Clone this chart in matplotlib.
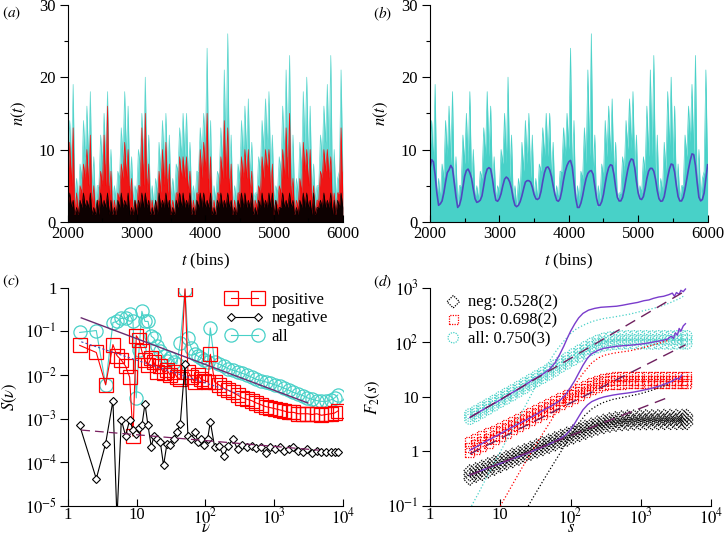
"""
Four-panel figure: activity time series (a, b), power spectra (c), DFA fluctuation functions (d).
"""

import numpy as np
import matplotlib.pyplot as plt
from matplotlib.ticker import FixedLocator, FuncFormatter, NullLocator

plt.rcParams['font.family'] = ['Liberation Serif', 'DejaVu Serif']
plt.rcParams['mathtext.fontset'] = 'stix'
plt.rcParams['font.size'] = 10.5

# ---------------- panel (a)/(b): per-50-bin windows, dense level (lo) and spike top (hi)
bin_start = np.arange(2000, 6000, 50)

all_hi = [14, 19, 6, 8, 14, 16, 18, 9, 5, 12,
          15, 18, 10, 5, 7, 13, 18, 16, 9, 5,
          10, 15, 20, 12, 5, 6, 11, 14, 15, 12,
          6, 8, 13, 15, 15, 11, 5, 7, 13, 15,
          24, 14, 5, 7, 13, 21, 26, 12, 5, 8,
          14, 16, 17, 11, 4, 9, 14, 17, 18, 12,
          5, 9, 16, 21, 23, 12, 6, 11, 18, 20,
          16, 8, 5, 12, 16, 19, 23, 10, 6, 21]
all_lo = [9, 8, 3, 3, 6, 9, 8, 4, 2, 5,
          8, 8, 5, 3, 3, 6, 9, 9, 5, 3,
          4, 8, 8, 6, 3, 2, 4, 7, 8, 6,
          3, 3, 7, 9, 9, 6, 3, 3, 7, 9,
          10, 6, 2, 3, 6, 8, 9, 6, 2, 3,
          6, 9, 9, 6, 3, 4, 7, 10, 10, 7,
          3, 4, 7, 9, 9, 5, 3, 4, 7, 10,
          8, 4, 3, 5, 9, 11, 9, 4, 3, 7]
pos_hi = [11, 13, 4, 5, 8, 10, 12, 5, 3, 7,
          12, 16, 7, 3, 4, 8, 11, 10, 6, 3,
          5, 13, 15, 8, 3, 3, 7, 10, 11, 8,
          3, 4, 9, 9, 9, 7, 3, 4, 10, 11,
          15, 9, 3, 4, 9, 14, 13, 8, 3, 4,
          9, 10, 10, 7, 3, 5, 9, 10, 10, 8,
          3, 5, 10, 13, 15, 6, 3, 6, 11, 10,
          10, 5, 3, 7, 10, 10, 9, 4, 4, 13]
pos_lo = [6, 5, 1, 1, 4, 6, 5, 2, 1, 3,
          5, 5, 3, 1, 1, 3, 6, 6, 3, 1,
          2, 5, 5, 4, 1, 1, 2, 4, 5, 4,
          1, 1, 4, 6, 6, 4, 1, 1, 4, 6,
          7, 4, 1, 1, 4, 6, 6, 4, 1, 1,
          4, 6, 6, 4, 1, 2, 4, 6, 7, 4,
          1, 2, 4, 6, 6, 3, 1, 2, 4, 7,
          5, 2, 1, 3, 6, 7, 6, 2, 1, 4]
neg_hi = [4, 3, 2, 3, 4, 3, 4, 2, 3, 4,
          3, 4, 3, 2, 3, 4, 3, 4, 2, 3,
          3, 4, 4, 3, 2, 3, 4, 3, 4, 3,
          2, 3, 4, 4, 3, 4, 2, 3, 4, 4,
          3, 4, 2, 3, 4, 3, 4, 3, 2, 3,
          4, 4, 3, 4, 2, 3, 4, 3, 4, 4,
          3, 2, 4, 3, 4, 3, 2, 3, 4, 4,
          3, 4, 2, 3, 4, 3, 4, 3, 3, 4]
neg_lo = [2, 2, 1, 1, 2, 2, 2, 1, 1, 1,
          2, 2, 1, 1, 1, 2, 2, 2, 1, 1,
          1, 2, 2, 2, 1, 1, 1, 2, 2, 2,
          1, 1, 2, 2, 2, 2, 1, 1, 2, 2,
          2, 2, 1, 1, 2, 2, 2, 2, 1, 1,
          2, 2, 2, 2, 1, 1, 2, 2, 2, 2,
          1, 1, 2, 2, 2, 2, 1, 1, 2, 2,
          2, 1, 1, 2, 2, 2, 2, 1, 1, 2]

# smoothed "all" signal, every 25 bins from 2000 to 6000
smooth_t = np.arange(2000, 6001, 25)
smooth_n = [7.4, 8.6, 8.3, 6.5, 4.0, 2.3, 2.5, 2.9, 4.0, 5.5, 6.8, 7.2, 7.8, 7.4, 5.5, 3.5,
            2.0, 2.3, 3.2, 4.8, 6.3, 7.1, 7.3, 6.8, 6.0, 4.5, 3.2, 2.7, 2.8, 3.0, 3.6, 5.0,
            6.5, 7.3, 7.5, 7.3, 6.0, 4.2, 3.0, 2.85, 3.2, 3.9, 5.0, 5.9, 6.2, 6.0, 5.5, 4.6,
            3.2, 2.3, 2.1, 2.3, 2.8, 3.6, 4.6, 5.5, 5.7, 5.7, 5.5, 4.8, 3.8, 3.2, 3.1, 3.3,
            4.2, 5.6, 6.8, 7.5, 7.6, 7.2, 6.3, 5.0, 3.8, 3.0, 2.85, 3.2, 4.3, 5.8, 7.0, 7.8,
            8.3, 8.5, 7.6, 5.5, 3.3, 2.0, 2.0, 2.6, 3.6, 4.9, 6.0, 6.7, 7.0, 7.1, 6.6, 5.0,
            3.3, 2.3, 2.3, 2.8, 3.8, 5.3, 6.6, 7.5, 7.9, 7.8, 6.6, 4.8, 3.4, 2.9, 2.9, 3.4,
            4.5, 5.9, 7.2, 8.2, 8.7, 8.6, 7.5, 5.6, 4.0, 3.2, 3.1, 3.5, 4.6, 6.0, 7.0, 7.4,
            7.4, 7.0, 5.9, 4.3, 3.2, 2.85, 2.9, 3.5, 4.8, 6.2, 7.3, 8.0, 7.9, 6.9, 5.0, 3.5,
            2.9, 2.9, 3.4, 4.5, 5.9, 7.3, 8.5, 9.4, 9.3, 7.8, 5.4, 3.4, 2.9, 3.1, 4.0, 6.0,
            7.9]

# ---------------- panel (c): spectra
nu = [1.48, 2.58, 3.53, 4.51, 5.16, 5.97, 6.90, 7.89, 8.82, 9.86,
      10.8, 11.9, 13.2, 14.6, 16.3, 17.8, 19.7, 22.0, 24.6, 27.5,
      30.8, 34.4, 38.5, 43.0, 50.5, 55.7, 62.2, 70, 78, 87,
      97, 108, 118, 136, 157, 184, 215, 251, 294, 343,
      402, 470, 549, 642, 750, 877, 1026, 1199, 1402, 1640,
      1916, 2240, 2618, 3062, 3580, 4188, 4895, 5723, 6690, 7600, 8460]
S_pos = [0.048, 0.033, 0.006, 0.05, 0.028, 0.022, 0.016, 0.009, 4e-4, 0.08,
         0.065, 0.035, 0.022, 0.017, 0.025, 0.02, 0.012, 0.016, 0.011, 0.013,
         0.010, 0.012, 0.009, 0.008, 0.95, 0.012, 0.009, 0.007, 0.01, 0.008,
         0.0075, 0.007, 0.03, 0.007, 0.006, 0.005, 0.0045, 0.004, 0.0035, 0.003,
         0.0028, 0.0026, 0.0023, 0.0021, 0.0019, 0.0018, 0.0017, 0.0016, 0.0015, 0.0014,
         0.0014, 0.0013, 0.0013, 0.0013, 0.00125, 0.0013, 0.0012, 0.00125, 0.0013, 0.00135, 0.0015]
S_neg = [7.0e-4, 4.2e-5, 2.7e-4, 2.6e-3, 5e-6, 9.5e-4, 4.0e-4, 9.5e-4, 5.5e-4, 4.5e-4,
         6.0e-4, 7.0e-4, 2.2e-3, 7.0e-4, 2.3e-4, 4.0e-4, 3.5e-4, 3.0e-4, 8.5e-5, 2.6e-4,
         2.5e-4, 3.5e-4, 5.0e-4, 7.5e-4, 1.8e-2, 4.0e-4, 3.5e-4, 5.0e-4, 3.0e-4, 3.5e-4,
         2.5e-4, 3.5e-4, 8.5e-4, 2.3e-4, 2.4e-4, 1.4e-4, 2.4e-4, 3.4e-4, 2.0e-4, 2.5e-4,
         2.3e-4, 2.4e-4, 2.1e-4, 2.2e-4, 1.6e-4, 2.3e-4, 2.0e-4, 2.2e-4, 1.8e-4, 2.0e-4,
         2.2e-4, 1.8e-4, 1.7e-4, 2.0e-4, 1.6e-4, 1.8e-4, 1.7e-4, 1.7e-4, 1.75e-4, 1.7e-4, 1.7e-4]
S_all = [0.095, 0.105, 0.006, 0.16, 0.17, 0.2, 0.2, 0.245, 0.17, 0.003,
         0.037, 0.29, 0.17, 0.17, 0.078, 0.07, 0.046, 0.035, 0.027, 0.021,
         0.025, 0.02, 0.018, 0.055, 0.9, 0.07, 0.042, 0.03, 0.027, 0.025,
         0.022, 0.02, 0.12, 0.02, 0.018, 0.016, 0.014, 0.013, 0.012, 0.011,
         0.01, 0.009, 0.008, 0.0075, 0.007, 0.0065, 0.006, 0.0055, 0.005, 0.0045,
         0.004, 0.0037, 0.0034, 0.003, 0.0028, 0.0026, 0.0025, 0.0025, 0.0027, 0.003, 0.0035]
fit_all_c = ([1.56, 3100], [0.205, 2.3e-3])
fit_pos_c = ([1.56, 320], [0.058, 3.6e-3])
fit_neg_c = ([1.56, 4500], [5.5e-4, 1.9e-4])

# ---------------- panel (d): fluctuation functions
s_grid = [3.7, 4.5, 5.5, 6.7, 8.2, 10, 12.2, 14.9, 18.2, 22.2, 27, 33, 40, 49, 60, 73, 89, 109,
          133, 162, 198, 241, 294, 359, 438, 534, 651, 794, 969, 1182, 1442, 1759, 2146, 2618,
          3194, 3896, 4500]
F_all = {
    'lo': [3.9, 4.4, 5.1, 5.9, 6.9, 8.0, 9.2, 10.6, 12.4, 14.3, 16.6, 19.2, 22, 25.5, 29.9, 35.2,
           40.5, 47, 54.5, 63, 72, 80, 86, 90, 92, 93, 94, 94, 94, 94, 93, 94, 94, 93, 94, 94, 94],
    'mid': [4.4, 5.0, 5.8, 6.7, 7.8, 9.0, 10.4, 12.0, 14.0, 16.2, 18.8, 21.8, 25, 29, 34, 40, 46,
            54, 63, 73, 84, 94, 102, 107, 110, 111, 112, 112, 112, 112, 111, 112, 112, 111, 112,
            112, 112],
    'hi': [4.9, 5.6, 6.5, 7.5, 8.7, 10.1, 11.7, 13.5, 15.7, 18.2, 21.1, 24.5, 28.2, 32.8, 38.5,
           45.5, 52.5, 62, 72.5, 84, 97, 109, 119, 125, 129, 131, 132, 132, 132, 132, 131, 132,
           132, 131, 132, 132, 132],
}
F_pos = {
    'lo': [0.95, 1.08, 1.25, 1.42, 1.63, 1.88, 2.15, 2.48, 2.82, 3.25, 3.7, 4.2, 4.8, 5.5, 6.3,
           7.2, 8.2, 9.4, 10.7, 12.1, 13.7, 15.0, 16.0, 16.7, 17.0, 17.2, 17.3, 17.3, 17.3, 17.3,
           17.3, 17.3, 17.3, 17.3, 17.3, 17.3, 17.3],
    'mid': [1.2, 1.35, 1.55, 1.75, 2.0, 2.3, 2.6, 3.0, 3.4, 3.9, 4.4, 5.0, 5.7, 6.5, 7.4, 8.5,
            9.7, 11.0, 12.5, 14.2, 16.0, 17.6, 18.8, 19.6, 20.0, 20.2, 20.3, 20.3, 20.3, 20.3,
            20.3, 20.3, 20.3, 20.3, 20.3, 20.3, 20.3],
    'hi': [1.55, 1.72, 1.95, 2.2, 2.45, 2.8, 3.15, 3.6, 4.05, 4.6, 5.2, 5.9, 6.7, 7.6, 8.6, 9.9,
           11.3, 12.8, 14.5, 16.4, 18.5, 20.3, 21.8, 22.8, 23.3, 23.6, 23.7, 23.8, 23.8, 23.8,
           23.8, 23.8, 23.8, 23.8, 23.8, 23.8, 23.8],
}
F_neg = {
    'lo': [0.31, 0.35, 0.38, 0.42, 0.47, 0.53, 0.59, 0.65, 0.72, 0.8, 0.89, 0.98, 1.08, 1.19,
           1.32, 1.46, 1.61, 1.77, 1.96, 2.15, 2.36, 2.57, 2.74, 2.9, 3.02, 3.1, 3.15, 3.2, 3.22,
           3.22, 3.22, 3.22, 3.25, 3.25, 3.25, 3.25, 3.25],
    'mid': [0.37, 0.41, 0.45, 0.50, 0.56, 0.62, 0.69, 0.76, 0.84, 0.93, 1.03, 1.14, 1.26, 1.39,
            1.54, 1.70, 1.88, 2.07, 2.28, 2.5, 2.75, 3.0, 3.2, 3.4, 3.55, 3.65, 3.7, 3.75, 3.8,
            3.8, 3.8, 3.8, 3.85, 3.85, 3.85, 3.85, 3.85],
    'hi': [0.44, 0.48, 0.53, 0.59, 0.65, 0.72, 0.8, 0.88, 0.97, 1.07, 1.18, 1.31, 1.45, 1.6,
           1.77, 1.95, 2.15, 2.37, 2.6, 2.86, 3.15, 3.45, 3.7, 3.95, 4.15, 4.3, 4.4, 4.45, 4.5,
           4.5, 4.5, 4.5, 4.55, 4.55, 4.55, 4.55, 4.55],
}

# solid purple curves (with trend) and thin dotted curves
top_s = [3.7, 5, 7, 10, 14, 20, 28, 40, 50, 60, 70, 80, 90, 100, 115, 130, 150, 180, 220, 270,
         350, 450, 550, 700, 900, 1100, 1300, 1500, 1800, 2100, 2500, 2800, 3000, 3200, 3500,
         3700, 4000, 4300]
top_F = [4.2, 5.3, 6.8, 8.8, 11.5, 15, 20, 26, 32, 42, 60, 85, 120, 160, 220, 280, 340, 390,
         420, 440, 450, 460, 480, 510, 540, 580, 600, 640, 680, 700, 750, 800, 700, 820, 760,
         900, 850, 950]
mid_s = [3.7, 5, 7, 10, 14, 20, 28, 40, 55, 70, 85, 100, 115, 130, 150, 175, 200, 250, 300,
         400, 500, 650, 800, 1000, 1300, 1600, 2000, 2400, 2700, 2900, 3100, 3300, 3500, 3700,
         4000, 4300]
mid_F = [1.05, 1.3, 1.65, 2.1, 2.7, 3.4, 4.3, 5.6, 7.0, 8.5, 11, 15, 20, 27, 38, 52, 62, 72,
         78, 83, 86, 88, 90, 93, 98, 103, 108, 115, 130, 118, 150, 135, 180, 160, 200, 220]
bot_s = [3.7, 5, 7, 10, 14, 20, 28, 40, 55, 70, 85, 100, 115, 130, 150, 175, 200, 250, 300,
         400, 500, 650, 800, 1000, 1300, 1600, 2000, 2400, 2800, 3200, 3500, 3800]
bot_F = [0.37, 0.43, 0.51, 0.6, 0.71, 0.84, 1.0, 1.2, 1.45, 1.7, 2.0, 2.5, 3.3, 4.3, 5.8, 7.2,
         8.2, 9.3, 10, 10.8, 11.3, 11.8, 12.3, 13, 14, 15, 16.5, 18, 19.5, 22, 21, 25]
dot_all_s = [3.9, 5, 7, 10, 15, 20, 30, 40, 50, 60, 70, 80, 90, 100, 120, 150, 200, 250, 300,
             400, 500, 700, 1000, 1500, 2000, 2500, 3000, 3500, 4000]
dot_all_F = [0.1, 0.18, 0.42, 0.98, 2.6, 5, 13.5, 28, 45, 65, 85, 105, 125, 145, 175, 205, 240,
             260, 275, 290, 305, 330, 370, 420, 470, 520, 580, 630, 700]
dot_pos_s = [10, 12, 15, 20, 30, 40, 50, 60, 80, 100, 120, 150, 200, 250, 300, 400, 500, 700,
             1000, 1500, 2000, 2500]
dot_pos_F = [0.1, 0.15, 0.25, 0.48, 1.15, 2.1, 3.3, 4.8, 8.5, 13, 18, 27, 42, 52, 58, 63, 66,
             70, 78, 90, 100, 110]
dot_neg_s = [25, 30, 40, 50, 60, 80, 100, 130, 160, 200, 250, 300, 400, 600, 800, 1000, 1500,
             2000, 2500]
dot_neg_F = [0.1, 0.15, 0.28, 0.45, 0.66, 1.2, 1.9, 3.2, 4.6, 6.0, 7.2, 8.0, 9.0, 10, 10.8,
             11.5, 13.5, 15.5, 17]
fit_all_d = ([3.7, 4300], [4.2, 880])
fit_pos_d = ([3.7, 4300], [0.9, 90])
fit_neg_d = ([3.7, 2300], [0.37, 9.5])

CYAN = '#48d1c8'
RED = '#ff0000'
BLUE = '#5048c0'
PURPLE = '#7a3ccc'
DASH = '#6e1f5e'


def zigzag(lo, hi):
    """Alternate dense level and spike top inside each 50-bin window."""
    x, y = [], []
    for t0, a, b in zip(bin_start, lo, hi):
        x += [t0, t0 + 25]
        y += [a, b]
    x.append(6000)
    y.append(lo[-1])
    return np.array(x), np.array(y)


def style_time_axis(ax):
    ax.set_xlim(2000, 6000)
    ax.set_ylim(0, 30)
    ax.spines['top'].set_visible(False)
    ax.spines['right'].set_visible(False)
    ax.xaxis.set_major_locator(FixedLocator([2000, 3000, 4000, 5000, 6000]))
    ax.xaxis.set_minor_locator(FixedLocator([2500, 3500, 4500, 5500]))
    ax.yaxis.set_major_locator(FixedLocator([0, 10, 20, 30]))
    ax.yaxis.set_minor_locator(FixedLocator([5, 15, 25]))
    ax.tick_params(axis='y', which='major', direction='out', length=6, width=0.8, pad=3)
    ax.tick_params(axis='y', which='minor', direction='out', length=3, width=0.8)
    ax.tick_params(axis='x', which='major', direction='in', length=5, width=0.8, pad=3)
    ax.tick_params(axis='x', which='minor', direction='in', length=3, width=0.8)
    ax.tick_params(labelsize=12)
    ax.set_xlabel(r'$t$ (bins)', fontsize=12, labelpad=7)
    ax.set_ylabel(r'$n(t)$', fontsize=12, labelpad=8)


def pow_label(v, pos):
    e = int(round(np.log10(v)))
    if e == 0:
        return '1'
    if e == 1:
        return '10'
    return r'$10^{%d}$' % e


def style_log_axis(ax, ylim, yticks):
    ax.set_xscale('log')
    ax.set_yscale('log')
    ax.set_xlim(1, 1e4)
    ax.set_ylim(*ylim)
    ax.spines['top'].set_visible(False)
    ax.spines['right'].set_visible(False)
    ax.xaxis.set_major_locator(FixedLocator([1, 10, 100, 1000, 10000]))
    ax.yaxis.set_major_locator(FixedLocator(yticks))
    ax.xaxis.set_minor_locator(NullLocator())
    ax.yaxis.set_minor_locator(NullLocator())
    ax.xaxis.set_major_formatter(FuncFormatter(pow_label))
    ax.yaxis.set_major_formatter(FuncFormatter(pow_label))
    ax.tick_params(axis='y', direction='out', length=6, width=0.8, pad=2)
    ax.tick_params(axis='x', direction='in', length=5, width=0.8, pad=1)
    ax.tick_params(labelsize=12)


fig = plt.figure(figsize=(7.25, 5.36), dpi=100)

# (a) all / positive / negative
ax_a = fig.add_axes([0.0938, 0.586, 0.379, 0.405])
for lo, hi, col, al in [(all_lo, all_hi, CYAN, 0.85), (pos_lo, pos_hi, RED, 0.9),
                        (neg_lo, neg_hi, 'black', 0.95)]:
    zx, zy = zigzag(lo, hi)
    ax_a.fill_between(zx, 0, zy, color=col, alpha=al, lw=0)
    ax_a.plot(zx, zy, color=col, alpha=al, lw=0.5)
style_time_axis(ax_a)

# (b) all with smoothed curve
ax_b = fig.add_axes([0.593, 0.586, 0.383, 0.405])
zx, zy = zigzag(all_lo, all_hi)
ax_b.fill_between(zx, 0, zy, color=CYAN, lw=0)
ax_b.plot(zx, zy, color=CYAN, lw=0.5)
ax_b.plot(smooth_t, smooth_n, color=BLUE, lw=1.2)
style_time_axis(ax_b)

# (c) spectra
ax_c = fig.add_axes([0.0938, 0.056, 0.379, 0.407])
ax_c.plot(nu, S_all, '-o', color=CYAN, mfc='none', mec=CYAN, ms=9.5, lw=0.8, mew=0.9,
          label='all', zorder=2)
ax_c.plot(nu, S_pos, '-s', color=RED, mfc='none', mec=RED, ms=9.5, lw=0.8, mew=0.9,
          label='positive', zorder=3)
ax_c.plot(nu, S_neg, '-D', color='black', mfc='white', mec='black', ms=4.5, lw=0.8, mew=0.8,
          label='negative', zorder=4)
ax_c.plot(*fit_all_c, color='#6a2c70', lw=1.0, zorder=5)
ax_c.plot(*fit_pos_c, color='#4b4bb0', lw=0.8, ls=(0, (2, 2)), zorder=5)
ax_c.plot(*fit_neg_c, color='#7a2060', lw=0.9, ls=(0, (7, 4)), zorder=5)
style_log_axis(ax_c, (1e-5, 1), [1e-5, 1e-4, 1e-3, 1e-2, 1e-1, 1])
ax_c.set_xlabel(r'$\nu$', fontsize=12)
ax_c.xaxis.set_label_coords(0.5, -0.066)
ax_c.set_ylabel(r'$S(\nu)$', fontsize=12, labelpad=4)
h, l = ax_c.get_legend_handles_labels()
order = [1, 2, 0]
ax_c.legend([h[i] for i in order], [l[i] for i in order], loc='upper right', frameon=False,
            numpoints=2, handlelength=2.2, handletextpad=0.5, labelspacing=0.15, fontsize=12,
            bbox_to_anchor=(1.0, 1.05))

# (d) fluctuation functions
ax_d = fig.add_axes([0.593, 0.056, 0.388, 0.407])
band_handles = []
for band, col, mk, name in [(F_neg, 'black', 'D', 'neg: 0.528(2)'),
                            (F_pos, RED, 's', 'pos: 0.698(2)'),
                            (F_all, CYAN, 'o', 'all: 0.750(3)')]:
    sz = 40 if mk == 'D' else (42 if mk == 's' else 55)
    for key in ['lo', 'mid', 'hi']:
        sc = ax_d.scatter(s_grid, band[key], s=sz, marker=mk, facecolors='none',
                          edgecolors=col, linewidths=0.9, linestyles=(0, (1, 1)), zorder=2)
    band_handles.append((sc, name))
ax_d.plot(dot_all_s, dot_all_F, color=CYAN, lw=0.9, ls=':', zorder=3)
ax_d.plot(dot_pos_s, dot_pos_F, color=RED, lw=0.9, ls=':', zorder=3)
ax_d.plot(dot_neg_s, dot_neg_F, color='black', lw=0.9, ls=':', zorder=3)
for xs, ys in [(top_s, top_F), (mid_s, mid_F), (bot_s, bot_F)]:
    ax_d.plot(xs, ys, color=PURPLE, lw=1.0, zorder=4)
for xs, ys in [fit_all_d, fit_pos_d, fit_neg_d]:
    ax_d.plot(xs, ys, color=DASH, lw=1.0, ls=(0, (8, 5)), zorder=4)
style_log_axis(ax_d, (0.1, 1000), [0.1, 1, 10, 100, 1000])
ax_d.set_xlabel(r'$s$', fontsize=12)
ax_d.xaxis.set_label_coords(0.5, -0.066)
ax_d.set_ylabel(r'$F_2(s)$', fontsize=12, labelpad=4)
ax_d.legend([hh for hh, _ in band_handles], [nn for _, nn in band_handles], loc='upper left',
            frameon=False, scatterpoints=1, handlelength=1.0, handletextpad=0.4,
            labelspacing=0.12, fontsize=12, bbox_to_anchor=(0.0, 1.04))

# panel letters
for x, y, letter in [(0.003, 0.975, 'a'), (0.515, 0.975, 'b'), (0.003, 0.475, 'c'),
                     (0.515, 0.475, 'd')]:
    fig.text(x, y, r'$(\mathit{%s})$' % letter, fontsize=11, va='center', ha='left')

fig.savefig('out.png', dpi=100)
